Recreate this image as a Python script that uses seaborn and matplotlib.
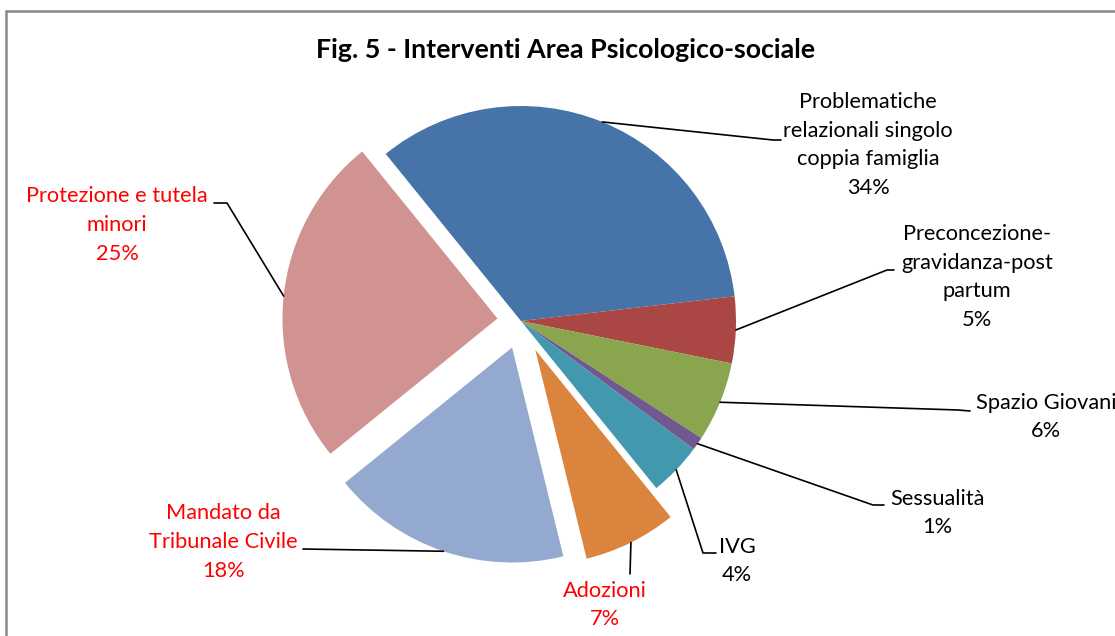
import numpy as np
import pandas as pd
import matplotlib
matplotlib.use("Agg")
import matplotlib.pyplot as plt
import seaborn as sns
from matplotlib.patches import Rectangle

# =======================
# Data
# =======================
categories = [
    "Problematiche\nrelazionali singolo\ncoppia famiglia",
    "Preconcezione-\ngravidanza-post\npartum",
    "Spazio Giovani",
    "Sessualità",
    "IVG",
    "Adozioni",
    "Mandato da\nTribunale Civile",
    "Protezione e tutela\nminori",
]
values = [34, 5, 6, 1, 4, 7, 18, 25]
colors = ["#4673A8", "#AA4644", "#89A54E", "#71598F", "#4198AF",
          "#DB843D", "#94A9CF", "#D19392"]
label_colors = ["black"] * 5 + ["#FF0000"] * 3
explode = [0, 0, 0, 0, 0, 0.15, 0.13, 0.11]

# label layout in pixel coords (x, y from top-left): text centre, elbow, line end
text_pos = [(868, 145), (977, 277), (1046, 417), (937, 513),
            (737, 561), (605, 605), (223, 542), (117, 225)]
elbows = [(773, 140), (887, 270), (958, 410), (873, 505),
          (703, 553), (630, 574), (303, 549), (227, 203)]
line_ends = [(781, 140), (894, 270), (970, 411), (884, 505),
             (716, 553), (630, 574), (303, 549), (214, 203)]

W, H = 1115, 636
R = 215

def px(x, y):
    return x, H - y

# =======================
# Plot
# =======================
sns.set_theme(style="white")
plt.rcParams["font.family"] = ["Lato", "DejaVu Sans"]

fig = plt.figure(figsize=(W / 100, H / 100), dpi=100)
ax = fig.add_axes([0, 0, 1, 1])

# matplotlib's explode offset is in data units, so scale by the radius
wedges, _ = ax.pie(values, colors=colors, explode=[e * R for e in explode],
                   startangle=129, counterclock=False, radius=R,
                   center=px(521, 321), wedgeprops=dict(linewidth=0))
# pie() resets the limits, so set them afterwards
ax.set_xlim(0, W)
ax.set_ylim(0, H)
ax.set_aspect("equal")
ax.axis("off")

for i, w in enumerate(wedges):
    mid = np.deg2rad((w.theta1 + w.theta2) / 2)
    cx, cy = w.center
    ax_, ay_ = cx + w.r * np.cos(mid), cy + w.r * np.sin(mid)
    ex, ey = px(*elbows[i])
    lx, ly = px(*line_ends[i])
    ax.plot([ax_, ex, lx], [ay_, ey, ly], color="black", lw=1.2)
    pct = f"{values[i]}%"
    tx, ty = px(*text_pos[i])
    ax.text(tx, ty, categories[i] + "\n" + pct, ha="center", va="center",
            fontsize=15.7, color=label_colors[i], linespacing=1.55)

ax.text(*px(566, 50), "Fig. 5 - Interventi Area Psicologico-sociale",
        ha="center", va="center", fontsize=19.3, fontweight="bold", color="black")

# chart frame
fig.patches.append(Rectangle((6 / W, -0.1), 1.2, (H - 11) / H + 0.1,
                             transform=fig.transFigure, fill=False,
                             edgecolor="#888888", linewidth=1.8))

plt.savefig("out.png", dpi=100)
